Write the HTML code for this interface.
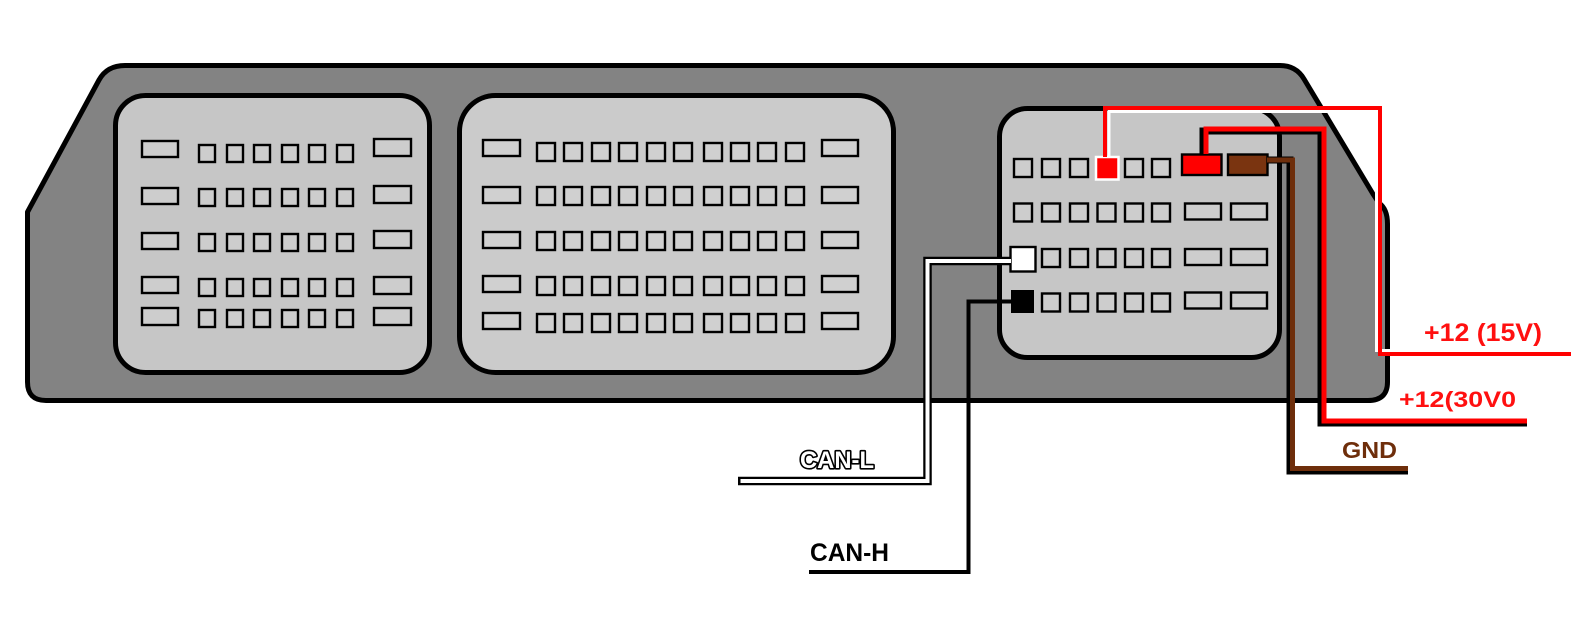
<!DOCTYPE html>
<html>
<head>
<meta charset="utf-8">
<style>
  html,body{margin:0;padding:0;background:#ffffff;}
  svg{display:block;}
  .lbl{font-family:"Liberation Sans",sans-serif;font-weight:bold;}
</style>
</head>
<body>
<svg width="1586" height="627" viewBox="0 0 1586 627" xmlns="http://www.w3.org/2000/svg">
  <rect x="0" y="0" width="1586" height="627" fill="#ffffff"/>

  <!-- Housing -->
  <path d="M 125 65.5 L 1280 65.5 Q 1296 65.5 1304 79 L 1373 194 L 1379 203 Q 1387.5 209 1387.5 224 L 1387.5 382 Q 1387.5 400.5 1368 400.5 L 46 400.5 Q 27.5 400.5 27.5 382 L 27.5 212 L 99 80 Q 107 65.5 125 65.5 Z"
        fill="#838383" stroke="#000" stroke-width="5" stroke-linejoin="round"/>

  <!-- Connectors -->
  <rect x="115.5" y="95.5" width="314" height="277" rx="30" ry="30" fill="#c6c6c6" stroke="#000" stroke-width="5"/>
  <rect x="459.5" y="95.5" width="434" height="277" rx="36" ry="36" fill="#cbcbcb" stroke="#000" stroke-width="5"/>
  <rect x="999.5" y="108.5" width="280" height="249" rx="28" ry="28" fill="#c6c6c6" stroke="#000" stroke-width="5"/>

  <!-- Left connector pins -->
  <g fill="#cdcdcd" stroke="#000" stroke-width="2.4">
    <rect x="142" y="141" width="36" height="16"/>
    <rect x="142" y="188" width="36" height="16"/>
    <rect x="142" y="233" width="36" height="16"/>
    <rect x="142" y="277" width="36" height="16"/>
    <rect x="142" y="308" width="36" height="17"/>
    <rect x="374" y="139" width="37" height="17"/>
    <rect x="374" y="186" width="37" height="17"/>
    <rect x="374" y="231" width="37" height="17"/>
    <rect x="374" y="277" width="37" height="17"/>
    <rect x="374" y="308" width="37" height="17"/>
  </g>
  <g fill="#cdcdcd" stroke="#000" stroke-width="2.4">
    <g id="lrow">
      <rect x="199" y="145" width="16" height="17"/>
      <rect x="227" y="145" width="16" height="17"/>
      <rect x="254" y="145" width="16" height="17"/>
      <rect x="282" y="145" width="16" height="17"/>
      <rect x="309" y="145" width="16" height="17"/>
      <rect x="337" y="145" width="16" height="17"/>
    </g>
    <use href="#lrow" y="44"/>
    <use href="#lrow" y="89"/>
    <use href="#lrow" y="134"/>
    <use href="#lrow" y="165"/>
  </g>

  <!-- Middle connector pins -->
  <g fill="#d0d0d0" stroke="#000" stroke-width="2.4">
    <rect x="483" y="140" width="37" height="16"/>
    <rect x="483" y="187" width="37" height="16"/>
    <rect x="483" y="232" width="37" height="16"/>
    <rect x="483" y="276" width="37" height="16"/>
    <rect x="483" y="313" width="37" height="16"/>
    <rect x="822" y="140" width="36" height="16"/>
    <rect x="822" y="187" width="36" height="16"/>
    <rect x="822" y="232" width="36" height="16"/>
    <rect x="822" y="276" width="36" height="16"/>
    <rect x="822" y="313" width="36" height="16"/>
    <g id="mrow">
      <rect x="537" y="143" width="18" height="18"/>
      <rect x="564" y="143" width="18" height="18"/>
      <rect x="592" y="143" width="18" height="18"/>
      <rect x="619" y="143" width="18" height="18"/>
      <rect x="647" y="143" width="18" height="18"/>
      <rect x="674" y="143" width="18" height="18"/>
      <rect x="704" y="143" width="18" height="18"/>
      <rect x="731" y="143" width="18" height="18"/>
      <rect x="758" y="143" width="18" height="18"/>
      <rect x="786" y="143" width="18" height="18"/>
    </g>
    <use href="#mrow" y="44"/>
    <use href="#mrow" y="89"/>
    <use href="#mrow" y="134"/>
    <use href="#mrow" y="171"/>
  </g>

  <!-- Right connector pins -->
  <g fill="#cdcdcd" stroke="#000" stroke-width="2.4">
    <rect x="1014" y="159" width="18" height="18"/>
    <rect x="1042" y="159" width="18" height="18"/>
    <rect x="1070" y="159" width="18" height="18"/>
    <rect x="1125" y="159" width="18" height="18"/>
    <rect x="1152" y="159" width="18" height="18"/>
    <rect x="1014" y="203.5" width="18" height="18"/>
    <rect x="1042" y="203.5" width="18" height="18"/>
    <rect x="1070" y="203.5" width="18" height="18"/>
    <rect x="1097.5" y="203.5" width="18" height="18"/>
    <rect x="1125" y="203.5" width="18" height="18"/>
    <rect x="1152" y="203.5" width="18" height="18"/>
    <rect x="1185" y="203.5" width="36" height="16"/>
    <rect x="1231" y="203.5" width="36" height="16"/>
    <rect x="1042" y="249" width="18" height="18"/>
    <rect x="1070" y="249" width="18" height="18"/>
    <rect x="1097.5" y="249" width="18" height="18"/>
    <rect x="1125" y="249" width="18" height="18"/>
    <rect x="1152" y="249" width="18" height="18"/>
    <rect x="1185" y="249" width="36" height="16"/>
    <rect x="1231" y="249" width="36" height="16"/>
    <rect x="1042" y="293.5" width="18" height="18"/>
    <rect x="1070" y="293.5" width="18" height="18"/>
    <rect x="1097.5" y="293.5" width="18" height="18"/>
    <rect x="1125" y="293.5" width="18" height="18"/>
    <rect x="1152" y="293.5" width="18" height="18"/>
    <rect x="1185" y="292.5" width="36" height="16"/>
    <rect x="1231" y="292.5" width="36" height="16"/>
  </g>

  <!-- Special pins -->
  <rect x="1096" y="157" width="22.5" height="22.5" fill="#ff0000" stroke="#ffffff" stroke-width="2.5"/>
  <rect x="1182" y="154.5" width="39.5" height="20.5" fill="#ff0000" stroke="#000" stroke-width="2.4"/>
  <rect x="1228" y="154.5" width="39.5" height="20.5" fill="#7a3410" stroke="#000" stroke-width="2.4"/>
  <rect x="1010.5" y="247" width="25" height="24.5" fill="#ffffff" stroke="#000" stroke-width="2.4"/>
  <rect x="1011" y="290" width="23" height="23" fill="#000000"/>

  <!-- +12 (15V) wire -->
  <polyline points="1109,157 1109,111.5 1376.5,111.5 1376.5,350.5 1571,350.5" fill="none" stroke="#ffffff" stroke-width="3"/>
  <polyline points="1105,157 1105,108 1380,108 1380,354 1571,354" fill="none" stroke="#ff0000" stroke-width="4"/>

  <!-- +12 (30V) wire -->
  <polyline points="1203,154 1203,131 1321,131 1321,423 1527,423" fill="none" stroke="#000" stroke-width="7"/>
  <polyline points="1206,154 1206,129 1324,129 1324,421 1527,421" fill="none" stroke="#ff0000" stroke-width="5"/>

  <!-- GND wire -->
  <polyline points="1267,160 1290,160 1290,471 1408,471" fill="none" stroke="#000" stroke-width="7"/>
  <polyline points="1267,160 1292.5,160 1292.5,468.5 1408,468.5" fill="none" stroke="#6e2e0b" stroke-width="5"/>

  <!-- CAN-L wire -->
  <polyline points="1010,261 927.5,261 927.5,481 738,481" fill="none" stroke="#000" stroke-width="8.5"/>
  <polyline points="1011,261 927.5,261 927.5,481 740.5,481" fill="none" stroke="#ffffff" stroke-width="4"/>

  <!-- CAN-H wire -->
  <polyline points="1012,301.5 968.5,301.5 968.5,572 809,572" fill="none" stroke="#000" stroke-width="4"/>

  <!-- Labels -->
  <text class="lbl" x="1424" y="341" font-size="25" fill="#ff1010" textLength="118" lengthAdjust="spacingAndGlyphs">+12 (15V)</text>
  <text class="lbl" x="1399" y="407" font-size="22" fill="#ff1010" textLength="117" lengthAdjust="spacingAndGlyphs">+12(30V0</text>
  <text class="lbl" x="1342" y="458" font-size="23" fill="#6e2e0b" textLength="55" lengthAdjust="spacingAndGlyphs">GND</text>
  <text class="lbl" x="800" y="468" font-size="24" fill="#ffffff" stroke="#000" stroke-width="3.2" stroke-linejoin="round" paint-order="stroke" textLength="74" lengthAdjust="spacingAndGlyphs">CAN-L</text>
  <text class="lbl" x="810" y="561" font-size="25" fill="#000000" textLength="79" lengthAdjust="spacingAndGlyphs">CAN-H</text>
</svg>
</body>
</html>
